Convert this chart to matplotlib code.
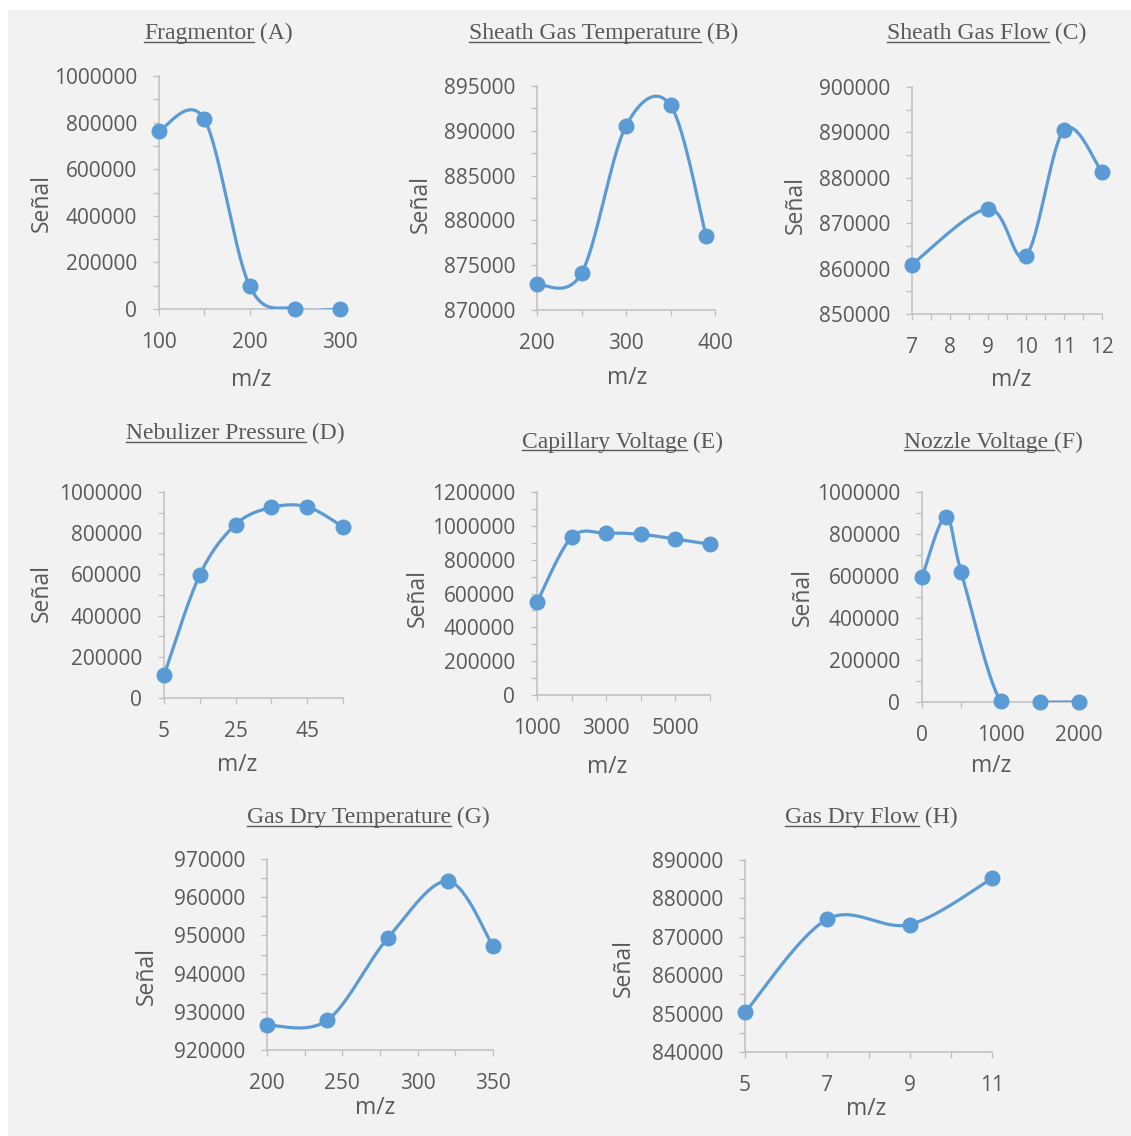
import numpy as np
import matplotlib.pyplot as plt
from matplotlib.patches import Rectangle
from matplotlib.lines import Line2D
from matplotlib.ticker import MultipleLocator, FixedLocator

W, H = 1131, 1136

# (A) Fragmentor
frag_x = [100, 150, 200, 250, 300]
frag_y = [765000, 815000, 100000, 1000, 0]
# (B) Sheath Gas Temperature
sgt_x = [200, 250, 300, 350, 390]
sgt_y = [872850, 874100, 890550, 892850, 878250]
# (C) Sheath Gas Flow
sgf_x = [7, 9, 10, 11, 12]
sgf_y = [860900, 873200, 862800, 890600, 881200]
# (D) Nebulizer Pressure
neb_x = [5, 15, 25, 35, 45, 55]
neb_y = [110000, 598000, 842000, 925000, 928000, 831000]
# (E) Capillary Voltage
cap_x = [1000, 2000, 3000, 4000, 5000, 6000]
cap_y = [548000, 932000, 956000, 950000, 922000, 891000]
# (F) Nozzle Voltage
noz_x = [0, 300, 500, 1000, 1500, 2000]
noz_y = [594000, 882000, 618000, 4000, 0, 0]
# (G) Gas Dry Temperature
gdt_x = [200, 240, 280, 320, 350]
gdt_y = [926500, 927800, 949200, 964200, 947200]
# (H) Gas Dry Flow
gdf_x = [5, 7, 9, 11]
gdf_y = [850300, 874600, 873200, 885200]

BLUE = '#5b9bd5'
TXT = '#595959'
AXC = '#bfbfbf'
BG = '#f2f2f2'
SERIF = 'Liberation Serif'
SANS = 'Open Sans'


def smooth(x, y, n=60):
    # Excel-style smoothed line: Catmull-Rom segments as cubic Beziers
    p = np.column_stack([x, y]).astype(float)
    p = np.vstack([p[:1], p, p[-1:]])
    t = np.linspace(0, 1, n)[:, None]
    out = []
    for i in range(1, len(p) - 2):
        p0, p3 = p[i], p[i + 1]
        c1 = p0 + (p[i + 1] - p[i - 1]) / 6
        c2 = p3 - (p[i + 2] - p[i]) / 6
        seg = ((1 - t) ** 3 * p0 + 3 * (1 - t) ** 2 * t * c1
               + 3 * (1 - t) * t ** 2 * c2 + t ** 3 * p3)
        out.append(seg if i == 1 else seg[1:])
    out = np.vstack(out)
    return out[:, 0], out[:, 1]


panels = [
    dict(name='Fragmentor', tag='(A)', x=frag_x, y=frag_y,
         xlim=(100, 300), xmaj=[100, 200, 300], xmin=[150, 250],
         ylim=(0, 1000000), ystep=200000,
         box=(159, 76, 340, 309), title=(144, 39.3), ylab=(42, 203), xlab=(251, 380)),
    dict(name='Sheath Gas Temperature', tag='(B)', x=sgt_x, y=sgt_y,
         xlim=(200, 400), xmaj=[200, 300, 400], xmin=[250, 350],
         ylim=(870000, 895000), ystep=5000,
         box=(537, 86, 715, 310), title=(469, 39.3), ylab=(421, 204), xlab=(627, 378)),
    dict(name='Sheath Gas Flow', tag='(C)', x=sgf_x, y=sgf_y,
         xlim=(7, 12), xmaj=[7, 8, 9, 10, 11, 12], xmin=[7.5, 8.5, 9.5, 10.5, 11.5],
         ylim=(850000, 900000), ystep=10000,
         box=(912, 87, 1102, 314), title=(887, 39.3), ylab=(796, 205), xlab=(1011, 380)),
    dict(name='Nebulizer Pressure', tag='(D)', x=neb_x, y=neb_y,
         xlim=(5, 55), xmaj=[5, 25, 45], xmin=[15, 35, 55],
         ylim=(0, 1000000), ystep=200000,
         box=(164, 492, 343, 698), title=(126, 439.3), ylab=(42, 593), xlab=(237, 765)),
    dict(name='Capillary Voltage', tag='(E)', x=cap_x, y=cap_y,
         xlim=(1000, 6000), xmaj=[1000, 3000, 5000], xmin=[2000, 4000, 6000],
         ylim=(0, 1200000), ystep=200000,
         box=(537, 492, 710, 695), title=(522, 447.7), ylab=(418, 598), xlab=(607, 767)),
    dict(name='Nozzle Voltage ', tag='(F)', x=noz_x, y=noz_y,
         xlim=(0, 2000), xmaj=[0, 1000, 2000], xmin=[500, 1500],
         ylim=(0, 1000000), ystep=200000,
         box=(922, 492, 1079, 702), title=(904, 447.7), ylab=(803, 597), xlab=(991, 766)),
    dict(name='Gas Dry Temperature', tag='(G)', x=gdt_x, y=gdt_y,
         xlim=(200, 350), xmaj=[200, 250, 300, 350], xmin=[225, 275, 325],
         ylim=(920000, 970000), ystep=10000,
         box=(267, 859, 493, 1050), title=(247, 823.3), ylab=(147, 976), xlab=(375, 1108)),
    dict(name='Gas Dry Flow', tag='(H)', x=gdf_x, y=gdf_y,
         xlim=(5, 11), xmaj=[5, 7, 9, 11], xmin=[6, 8, 10],
         ylim=(840000, 890000), ystep=10000,
         box=(745, 860, 992, 1052), title=(785, 823.3), ylab=(624, 968), xlab=(866, 1109)),
]

fig = plt.figure(figsize=(W / 100, H / 100), dpi=100, facecolor='white')
fig.patches.append(Rectangle((8 / W, 0), 1, 1 - 10 / H, transform=fig.transFigure,
                             facecolor=BG, edgecolor='none', zorder=-10))
renderer = fig.canvas.get_renderer()


def fx(v):
    return v / W


def fy(v):
    return 1 - v / H


for p in panels:
    l, t, r, b = p['box']
    ax = fig.add_axes([fx(l), fy(b), (r - l) / W, (b - t) / H])
    ax.patch.set_visible(False)

    sx, sy = smooth(p['x'], p['y'])
    ax.plot(sx, sy, color=BLUE, lw=2.3, solid_capstyle='round', zorder=3)
    ax.plot(p['x'], p['y'], 'o', color=BLUE, ms=10.5, clip_on=False, zorder=4)

    ax.set_xlim(*p['xlim'])
    ax.set_ylim(*p['ylim'])
    ax.xaxis.set_major_locator(FixedLocator(p['xmaj']))
    ax.xaxis.set_minor_locator(FixedLocator(p['xmin']))
    ax.yaxis.set_major_locator(MultipleLocator(p['ystep']))
    ax.yaxis.set_minor_locator(MultipleLocator(p['ystep'] / 2))
    ax.yaxis.set_major_formatter(lambda v, pos: f'{v:.0f}')
    ax.xaxis.set_major_formatter(lambda v, pos: f'{v:g}')

    for s in ('top', 'right'):
        ax.spines[s].set_visible(False)
    for s in ('left', 'bottom'):
        ax.spines[s].set_color(AXC)
        ax.spines[s].set_linewidth(1.1)
    ax.tick_params(which='both', direction='out', length=4.3, width=0.9, color=AXC,
                   labelcolor=TXT, labelsize=15)
    ax.tick_params(axis='x', which='major', pad=12.5)
    ax.tick_params(axis='y', which='major', pad=11.5)
    for lab in ax.get_xticklabels() + ax.get_yticklabels():
        lab.set_fontfamily(SANS)

    ax.set_xlabel('m/z', fontsize=16.5, color=TXT, family=SANS, va='center')
    ax.set_ylabel('Señal', fontsize=16.5, color=TXT, family=SANS, va='center')
    ax.xaxis.set_label_coords(fx(p['xlab'][0]), fy(p['xlab'][1]), transform=fig.transFigure)
    ax.yaxis.set_label_coords(fx(p['ylab'][0]), fy(p['ylab'][1]), transform=fig.transFigure)

    # title: underlined parameter name followed by the panel letter
    tx, ty = p['title']
    t1 = fig.text(fx(tx), fy(ty), p['name'], ha='left', va='baseline',
                  family=SERIF, fontsize=17, color=TXT)
    bb = t1.get_window_extent(renderer)
    sep = '' if p['name'].endswith(' ') else ' '
    fig.text(bb.x1 / W, fy(ty), sep + p['tag'], ha='left', va='baseline',
             family=SERIF, fontsize=17, color=TXT)
    uy = fy(ty + 2.6)
    fig.add_artist(Line2D([bb.x0 / W, bb.x1 / W], [uy, uy], transform=fig.transFigure,
                          color=TXT, lw=1.0))

fig.savefig('out.png', dpi=100, facecolor=fig.get_facecolor())
